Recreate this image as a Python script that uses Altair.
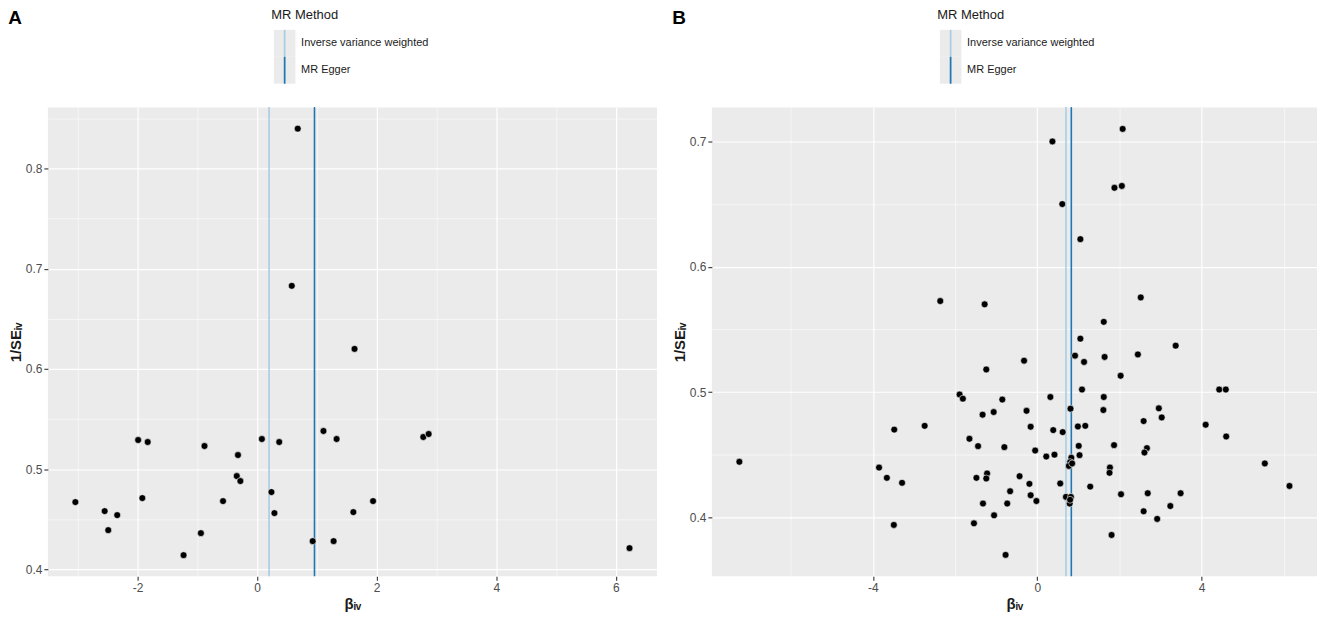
import altair as alt
import pandas as pd

# ---------------- data ----------------
methods = ["Inverse variance weighted", "MR Egger"]
method_colors = ["#a6cee3", "#1f78b4"]

# Panel A
a_beta = [-3.04, -2.55, -2.34, -2.49, -1.99, -1.83, -1.92, -0.88, -1.23, -0.94,
          -0.57, -0.32, -0.34, -0.28, 0.08, 0.37, 0.24, 0.29, 0.93, 1.11,
          1.33, 1.28, 1.61, 1.94, 2.78, 2.87, 6.23, 0.68, 0.58, 1.63]
a_inv_se = [0.467, 0.458, 0.454, 0.439, 0.529, 0.527, 0.471, 0.523, 0.414, 0.436,
            0.468, 0.514, 0.493, 0.488, 0.530, 0.527, 0.477, 0.456, 0.428, 0.538,
            0.530, 0.428, 0.457, 0.468, 0.532, 0.535, 0.421, 0.840, 0.683, 0.620]
a_method_beta = [0.20, 0.96]

# Panel B
b_beta = [2.08, 0.37, 1.88, 2.06, 0.61, 1.05,
          -2.36, -1.28, 2.52, 1.62, 1.05, 3.37, 0.92, 1.64, 2.45, -0.32, 1.14, -1.24,
          2.03, 1.09, 4.43, 4.59,
          -1.89, -1.81, -0.85, 0.32, 1.62, 0.81, 2.96, 1.61, -1.06, -0.26, -1.33, 3.03,
          2.59, -2.74, -3.48, -0.16, 0.39, 0.62, 0.99, 1.17, 4.10, -1.65, 4.60, -1.44,
          -0.80, 1.01, 1.87, 2.67, 2.61, -0.05, 0.22, 0.42, 1.03, 0.83, 0.80, 0.77,
          0.85, -7.25, 5.54, -3.85, 1.77, 1.76, -1.22, -1.24, -1.48, -3.66, -0.43,
          -3.29, -0.19, 0.56, 1.29, 6.14, -0.66, -0.16, 2.04, 2.69, 3.49, 0.70, 0.82,
          -0.02, -1.32, -0.73, 0.79, 0.80, 3.24, -1.05, 2.59, 2.92, -1.54, -3.49,
          1.81, -0.77]
b_inv_se = [0.710, 0.700, 0.663, 0.6645, 0.650, 0.622,
            0.5726, 0.570, 0.5755, 0.556, 0.5426, 0.537, 0.529, 0.528, 0.530, 0.525,
            0.524, 0.518, 0.513, 0.502, 0.502, 0.502,
            0.498, 0.4947, 0.494, 0.496, 0.496, 0.4867, 0.487, 0.4856, 0.484, 0.485,
            0.4819, 0.4797, 0.4768, 0.473, 0.470, 0.4723, 0.4696, 0.468, 0.4725, 0.473,
            0.4739, 0.4627, 0.4645, 0.4568, 0.456, 0.457, 0.4576, 0.4552, 0.4517,
            0.4533, 0.4485, 0.450, 0.4496, 0.4475, 0.444, 0.441, 0.443, 0.4443, 0.443,
            0.4397, 0.4397, 0.4355, 0.435, 0.431, 0.4315, 0.4315, 0.4328, 0.4275,
            0.4267, 0.427, 0.4245, 0.425, 0.4208, 0.4176, 0.4184, 0.4192, 0.4192,
            0.4163, 0.4163, 0.413, 0.411, 0.411, 0.411, 0.414, 0.409, 0.4016, 0.4048,
            0.3987, 0.3952, 0.3939, 0.3859, 0.370]
b_method_beta = [0.70, 0.83]

# axis tick positions (major + minor grid)
a_x_ticks = [-3, -2, -1, 0, 1, 2, 3, 4, 5, 6]
a_y_ticks = [0.40, 0.45, 0.50, 0.55, 0.60, 0.65, 0.70, 0.75, 0.80, 0.85]
b_x_ticks = [-6, -4, -2, 0, 2, 4, 6]
b_y_ticks = [0.40, 0.45, 0.50, 0.55, 0.60, 0.65, 0.70]

FONT = "Liberation Sans, Arial"
BG = "#EBEBEB"
KEY = 27
KEY_BOX = "M-0.8,-1H0.8V1H-0.8Z"
KEY_LINE = "M-0.065,-1H0.065V1H-0.065Z"


def cond(test, a, b):
    return {"condition": {"test": test, "value": a}, "value": b}


def make_axis(values, test, title, **kw):
    return alt.Axis(
        values=values,
        title=title,
        labelExpr=f"({test}) ? ('' + datum.value) : ''",
        grid=True,
        gridColor="white",
        gridWidth=cond(test, 1.2, 0.55),
        tickColor=cond(test, "#333333", "transparent"),
        tickSize=4,
        tickWidth=1.1,
        domain=False,
        labelFont=FONT,
        labelFontSize=12,
        labelColor="#4D4D4D",
        labelPadding=2,
        titleFont=FONT,
        titleFontSize=15,
        titleFontWeight="bold",
        titleColor="#1a1a1a",
        **kw,
    )


def legend(lx, **kw):
    return alt.Legend(
        title="MR Method", orient="none", legendX=lx, legendY=-99,
        titlePadding=8, labelOffset=3, rowPadding=0,
        symbolSize=KEY * KEY, symbolStrokeWidth=0, symbolOpacity=1,
        titleFont=FONT, titleFontSize=13, titleFontWeight="normal",
        labelFont=FONT, labelFontSize=11, **kw,
    )


def panel(tag, beta, inv_se, mbeta, xdom, ydom, xticks, xtest, yticks, ytest,
          width, lx):
    pts = pd.DataFrame({"beta": beta, "inv_se": inv_se})
    ests = pd.DataFrame({"method": methods, "b": mbeta})
    xs = alt.Scale(domain=xdom, nice=False, zero=False)
    ys = alt.Scale(domain=ydom, nice=False, zero=False)

    xaxis = make_axis(xticks, xtest, "βᵢᵥ", titlePadding=3)
    yaxis = make_axis(yticks, ytest, "1/SEᵢᵥ", titlePadding=2)

    # grey key backgrounds of the legend (tiny, invisible anchors in the plot)
    grey_keys = alt.Chart(ests).mark_square(size=1, opacity=1).encode(
        x=alt.X("b:Q", scale=xs, axis=xaxis),
        y=alt.value(0),
        fill=alt.Fill(
            "method:N",
            scale=alt.Scale(domain=methods, range=[BG, BG]),
            legend=legend(
                lx, symbolType=KEY_BOX, symbolFillColor=BG,
                titleColor="transparent", labelColor="transparent", zindex=0,
            ),
        ),
    )

    # coloured line keys of the legend
    line_keys = alt.Chart(ests).mark_square(size=1, opacity=1).encode(
        x=alt.X("b:Q", scale=xs, axis=xaxis),
        y=alt.value(0),
        color=alt.Color(
            "method:N",
            scale=alt.Scale(domain=methods, range=method_colors),
            legend=legend(
                lx, symbolType=KEY_LINE,
                titleColor="#1a1a1a", labelColor="#1a1a1a", zindex=1,
            ),
        ),
    )

    lines = alt.Chart(ests).mark_rule(strokeWidth=1.6).encode(
        x=alt.X("b:Q", scale=xs, axis=xaxis),
        stroke=alt.Stroke(
            "method:N",
            scale=alt.Scale(domain=methods, range=method_colors),
            legend=None,
        ),
    )

    points = alt.Chart(pts).mark_circle(
        size=48, color="black", opacity=1, stroke="white", strokeWidth=0.6
    ).encode(
        x=alt.X("beta:Q", scale=xs, axis=xaxis),
        y=alt.Y("inv_se:Q", scale=ys, axis=yaxis),
    )

    return alt.layer(grey_keys, line_keys, lines, points).properties(
        width=width,
        height=470,
        title=alt.TitleParams(
            tag, anchor="start", frame="bounds", fontSize=19,
            fontWeight="bold", font=FONT, color="black", offset=-19,
        ),
    ).resolve_scale(fill="independent", color="independent",
                    stroke="independent")


panel_a = panel(
    "A", a_beta, a_inv_se, a_method_beta,
    [-3.50, 6.69], [0.393, 0.861],
    a_x_ticks, "datum.value % 2 == 0",
    a_y_ticks, "round(datum.value * 100) % 10 == 0",
    611, 224,
)
panel_b = panel(
    "B", b_beta, b_inv_se, b_method_beta,
    [-7.92, 6.81], [0.353, 0.727],
    b_x_ticks, "datum.value % 4 == 0",
    b_y_ticks, "round(datum.value * 100) % 10 == 0",
    607, 226,
)

chart = alt.hconcat(panel_a, panel_b, spacing=15).resolve_scale(
    x="independent", y="independent", fill="independent",
    color="independent", stroke="independent"
).resolve_legend(
    fill="independent", color="independent", stroke="independent"
).properties(
    padding={"left": 0, "top": 0, "right": 0, "bottom": 0},
    background="white",
).configure_view(fill=BG, stroke=None)

chart.save("out.html", embed_options={"renderer": "svg", "actions": False})
